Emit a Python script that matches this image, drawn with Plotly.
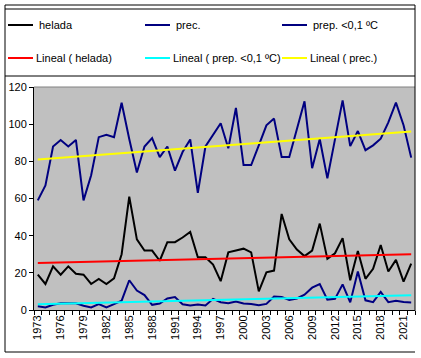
import numpy as np
import plotly.graph_objects as go

years = list(range(1973, 2023))
helada = [19, 14, 23.5, 19, 23.5, 19.5, 19, 14, 16.7, 14, 17, 30, 61, 38, 32, 32, 26.5, 36.5, 36.5, 39,
          42, 28.4, 28.4, 24.5, 15.5, 31, 32, 33, 31, 10, 20.3, 21.2, 51.7, 38, 32.5, 29, 32, 46.5, 27.5, 30.5,
          38.7, 16, 31.7, 16.8, 22.2, 35, 20.7, 27, 15.3, 24.9]
prec = [59, 67, 88, 91.5, 88, 91.5, 59, 72.5, 93, 94.3, 93, 111.5, 92, 74, 88, 92.5, 82.3, 88, 75, 85,
        91.8, 63, 88, 94, 100.5, 87, 108.7, 78, 78, 88.6, 99.4, 103, 82.3, 82.3, 96.7, 112.3, 76.3, 92, 70.8, 91,
        112.8, 88.2, 96.3, 86, 88.6, 92.2, 101, 111.6, 99.4, 82]
prep_01 = [2, 1.4, 2.8, 3.6, 3.6, 3.6, 2.3, 1.4, 3.2, 1.4, 3.2, 5, 16, 10.5, 8, 2.8, 3.5, 6.2, 7, 3.1,
           2.4, 3, 2.4, 6, 4.2, 3.7, 4.6, 3.5, 3.2, 2.5, 3.3, 7.3, 7, 5.4, 6.2, 8.2, 12, 14, 5.6, 6,
           13.8, 4.1, 20.7, 5.2, 4.2, 9.7, 4.2, 5, 4.3, 4.1]

series_names = ["helada", "prec.", "prep. <0,1 ºC"]
trend_names = ["Lineal ( helada)", "Lineal ( prep. <0,1 ºC)", "Lineal ( prec.)"]
x_tick_years = list(range(1973, 2023, 3))
y_ticks = [0, 20, 40, 60, 80, 100, 120]

FONT = "Liberation Sans, Arial, sans-serif"
NAVY = "#000080"


def trend(y):
    c = np.polyfit(years, y, 1)
    return np.polyval(c, years)


fig = go.Figure()
fig.add_trace(go.Scatter(x=years, y=helada, mode="lines", name=series_names[0],
                         line=dict(color="black", width=2)))
fig.add_trace(go.Scatter(x=years, y=prec, mode="lines", name=series_names[1],
                         line=dict(color=NAVY, width=2)))
fig.add_trace(go.Scatter(x=years, y=prep_01, mode="lines", name=series_names[2],
                         line=dict(color=NAVY, width=2)))
fig.add_trace(go.Scatter(x=years, y=trend(helada), mode="lines", name=trend_names[0],
                         line=dict(color="#FF0000", width=2)))
fig.add_trace(go.Scatter(x=years, y=trend(prep_01), mode="lines", name=trend_names[1],
                         line=dict(color="#00FFFF", width=2)))
fig.add_trace(go.Scatter(x=years, y=trend(prec), mode="lines", name=trend_names[2],
                         line=dict(color="#FFFF00", width=2)))

L, R, T, B = 34, 6, 87, 48
W, H = 421, 358
PW, PH = W - L - R, H - T - B


def px(p):
    return (p - L) / PW


def py(p):
    return (H - B - p) / PH


shapes = []


def seg(x0, y0, x1, y1, color="black", width=1):
    shapes.append(dict(type="line", xref="paper", yref="paper",
                       x0=px(x0), y0=py(y0), x1=px(x1), y1=py(y1),
                       line=dict(color=color, width=width)))


# plot area top border (grey)
seg(34, 87, 415, 87, "#808080", 1)
# chart border
seg(5, 5, 415, 5)
seg(5, 5, 5, 352)
seg(5, 352, 415, 352)
seg(415, 5, 415, 311)
# legend box
seg(5, 9, 415, 9)
seg(5, 76, 415, 76)

annotations = []
legend_rows = [
    [(series_names[0], "black", 8, 38), (series_names[1], NAVY, 145, 175), (series_names[2], NAVY, 282, 312)],
    [(trend_names[0], "#FF0000", 8, 35), (trend_names[1], "#00FFFF", 145, 172), (trend_names[2], "#FFFF00", 282, 309)],
]
for row, yy in zip(legend_rows, [25, 58]):
    for name, col, sx, tx in row:
        seg(sx, yy, sx + 25, yy, col, 2)
        annotations.append(dict(xref="paper", yref="paper", x=px(tx), y=py(yy),
                                xanchor="left", yanchor="middle", text=name, showarrow=False,
                                borderpad=0, font=dict(family=FONT, size=11, color="black")))

fig.update_layout(
    width=W, height=H,
    margin=dict(l=L, r=R, t=T, b=B, pad=0),
    paper_bgcolor="white", plot_bgcolor="#C0C0C0",
    showlegend=False,
    shapes=shapes, annotations=annotations,
    font=dict(family=FONT, size=11, color="black"),
)
fig.update_xaxes(
    range=[1972.5, 2022.5], tickmode="array", tickvals=x_tick_years,
    ticktext=[str(v) for v in x_tick_years], tickangle=-90,
    ticks="", showline=True, linecolor="black", linewidth=1,
    showgrid=False, zeroline=False,
    minor=dict(tickmode="array", tickvals=[1972.5 + k for k in range(51)],
               ticks="outside", ticklen=4, tickcolor="black", showgrid=False),
    tickfont=dict(family=FONT, size=11, color="black"),
)
fig.update_yaxes(
    range=[0, 120], tickmode="array", tickvals=y_ticks,
    ticks="outside", ticklen=4, tickcolor="black",
    showline=True, linecolor="black", linewidth=1,
    showgrid=False, zeroline=False,
    tickfont=dict(family=FONT, size=11, color="black"),
)

fig.write_html("out.html", config={"displayModeBar": False},
               post_script="document.body.style.margin='0';document.body.style.overflow='hidden';")
